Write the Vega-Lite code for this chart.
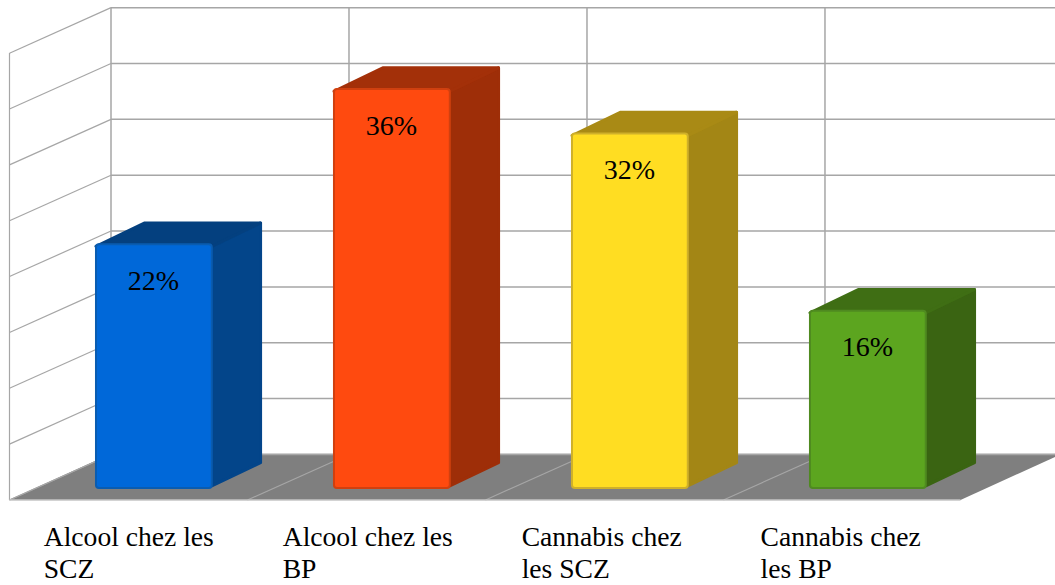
{
"$schema":"https://vega.github.io/schema/vega-lite/v6.json",
"width":1055,"height":585,"padding":0,"autosize":{"type":"none"},
"background":"white",
"view":{"stroke":null},
"datasets":{
"bars":[
{"category":"Alcool chez les\nSCZ","value":22,"rank":0},
{"category":"Alcool chez les\nBP","value":36,"rank":1},
{"category":"Cannabis chez\nles SCZ","value":32,"rank":2},
{"category":"Cannabis chez\nles BP","value":16,"rank":3}],
"ticks":[{"tick":0},{"tick":5},{"tick":10},{"tick":15},{"tick":20},{"tick":25},{"tick":30},{"tick":35},{"tick":40}],
"slots":[{"slot":0},{"slot":1},{"slot":2},{"slot":3}],
"floor":[{"depth":0},{"depth":1}]
},
"encoding":{
"x":{"field":"gx","type":"quantitative","axis":null,"scale":{"domain":[-0.0399,4.393],"nice":false,"zero":false}},
"y":{"field":"gy","type":"quantitative","axis":null,"scale":{"domain":[-8.754,44.04],"nice":false,"zero":false}}
},
"layer":[
{"data":{"name":"floor"},
"transform":[{"calculate":"datum.depth*0.4265","as":"gx"},{"calculate":"3.996+datum.depth*0.4265","as":"gx2"},{"calculate":"-1.08+datum.depth*4.16","as":"gy"}],
"mark":{"type":"area","orient":"horizontal","color":"#7f7f7f","clip":true},
"encoding":{"x2":{"field":"gx2"}}},
{"data":{"name":"ticks"},
"transform":[{"calculate":"0.4265","as":"gx"},{"calculate":"4.393","as":"gx2"},{"calculate":"3.03+datum.tick*1.008","as":"gy"}],
"mark":{"type":"rule","color":"#a6a6a6","strokeWidth":1.5},
"encoding":{"x2":{"field":"gx2"}}},
{"data":{"name":"ticks"},
"transform":[{"calculate":"0","as":"gx"},{"calculate":"0.4265","as":"gx2"},{"calculate":"-1.08+datum.tick*1.008","as":"gy"},{"calculate":"3.03+datum.tick*1.008","as":"gy2"}],
"mark":{"type":"rule","color":"#a6a6a6","strokeWidth":1.2},
"encoding":{"x2":{"field":"gx2"},"y2":{"field":"gy2"}}},
{"data":{"name":"slots"},
"transform":[{"calculate":"datum.slot+0.4265","as":"gx"},{"calculate":"3.03","as":"gy"},{"calculate":"43.35","as":"gy2"}],
"mark":{"type":"rule","color":"#a6a6a6","strokeWidth":1.5},
"encoding":{"y2":{"field":"gy2"}}},
{"data":{"name":"slots"},
"transform":[{"calculate":"datum.slot","as":"gx"},{"calculate":"datum.slot+0.4265","as":"gx2"},{"calculate":"-1.08","as":"gy"},{"calculate":"3.03","as":"gy2"}],
"mark":{"type":"rule","color":"#a6a6a6","strokeWidth":1.2},
"encoding":{"x2":{"field":"gx2"},"y2":{"field":"gy2"}}},
{"data":{"values":[{"edge":"front"}]},
"transform":[{"calculate":"0","as":"gx"},{"calculate":"-1.08","as":"gy"},{"calculate":"39.25","as":"gy2"}],
"mark":{"type":"rule","color":"#a6a6a6","strokeWidth":1.2},
"encoding":{"y2":{"field":"gy2"}}},
{"data":{"values":[{"edge":"front"}]},
"transform":[{"calculate":"0","as":"gx"},{"calculate":"3.996","as":"gx2"},{"calculate":"-1.08","as":"gy"}],
"mark":{"type":"rule","color":"#c4c4c4","strokeWidth":1.5},
"encoding":{"x2":{"field":"gx2"}}},
{"data":{"name":"bars"},
"transform":[{"calculate":"0","as":"near"},{"calculate":"1","as":"far"},{"fold":["near","far"],"as":["face","d"]},
{"calculate":"datum.rank+0.85+datum.d*0.205","as":"gx"},{"calculate":"datum.d*2.08+0.2","as":"gy"},{"calculate":"datum.value+datum.d*2.12-0.2","as":"gy2"}],
"mark":{"type":"area","strokeWidth":3,"strokeJoin":"round"},
"encoding":{"y2":{"field":"gy2"},
"fill":{"field":"rank","type":"nominal","legend":null,"scale":{"domain":[0,1,2,3],"range":["#03458a","#9e2e08","#a38615","#3a6412"]}},
"stroke":{"field":"rank","type":"nominal","legend":null,"scale":{"domain":[0,1,2,3],"range":["#03458a","#9e2e08","#a38615","#3a6412"]}}}},
{"data":{"name":"bars"},
"transform":[{"calculate":"0","as":"near"},{"calculate":"1","as":"far"},{"fold":["near","far"],"as":["face","d"]},
{"calculate":"datum.rank+0.3634+datum.d*0.205","as":"gx"},{"calculate":"datum.rank+0.85+datum.d*0.205","as":"gx2"},{"calculate":"datum.value+datum.d*2.12-0.2","as":"gy"}],
"mark":{"type":"area","orient":"horizontal","strokeWidth":3,"strokeJoin":"round"},
"encoding":{"x2":{"field":"gx2"},
"fill":{"field":"rank","type":"nominal","legend":null,"scale":{"domain":[0,1,2,3],"range":["#04407f","#a33009","#a98a15","#3f6e14"]}},
"stroke":{"field":"rank","type":"nominal","legend":null,"scale":{"domain":[0,1,2,3],"range":["#04407f","#a33009","#a98a15","#3f6e14"]}}}},
{"data":{"name":"bars"},
"transform":[{"calculate":"datum.rank+0.3634","as":"gx"},{"calculate":"datum.rank+0.85","as":"gx2"},{"calculate":"0","as":"gy"},{"calculate":"datum.value","as":"gy2"}],
"mark":{"type":"rect","cornerRadius":3,"strokeWidth":2},
"encoding":{"x2":{"field":"gx2"},"y2":{"field":"gy2"},
"fill":{"field":"rank","type":"nominal","legend":null,"scale":{"domain":[0,1,2,3],"range":["#0068d9","#ff4a0f","#ffdd22","#5ca51f"]}},
"stroke":{"field":"rank","type":"nominal","legend":null,"scale":{"domain":[0,1,2,3],"range":["#0a5cb0","#d0400f","#cfb02a","#4f8a20"]}}}},
{"data":{"name":"bars"},
"transform":[{"calculate":"datum.rank+0.605","as":"gx"},{"calculate":"datum.value-4.1","as":"gy"},{"calculate":"datum.value+'%'","as":"pct"}],
"mark":{"type":"text","font":"Liberation Serif","fontSize":28,"color":"black","align":"center","baseline":"alphabetic"},
"encoding":{"text":{"field":"pct"}}},
{"data":{"name":"bars"},
"transform":[{"calculate":"datum.rank+0.144+datum.rank*0.004","as":"gx"},{"calculate":"-5.235","as":"gy"}],
"mark":{"type":"text","font":"Liberation Serif","fontSize":27.6,"color":"black","align":"left","baseline":"alphabetic","lineBreak":"\n","lineHeight":32},
"encoding":{"text":{"field":"category"}}}
],
"resolve":{"scale":{"fill":"independent","stroke":"independent"}}
}
